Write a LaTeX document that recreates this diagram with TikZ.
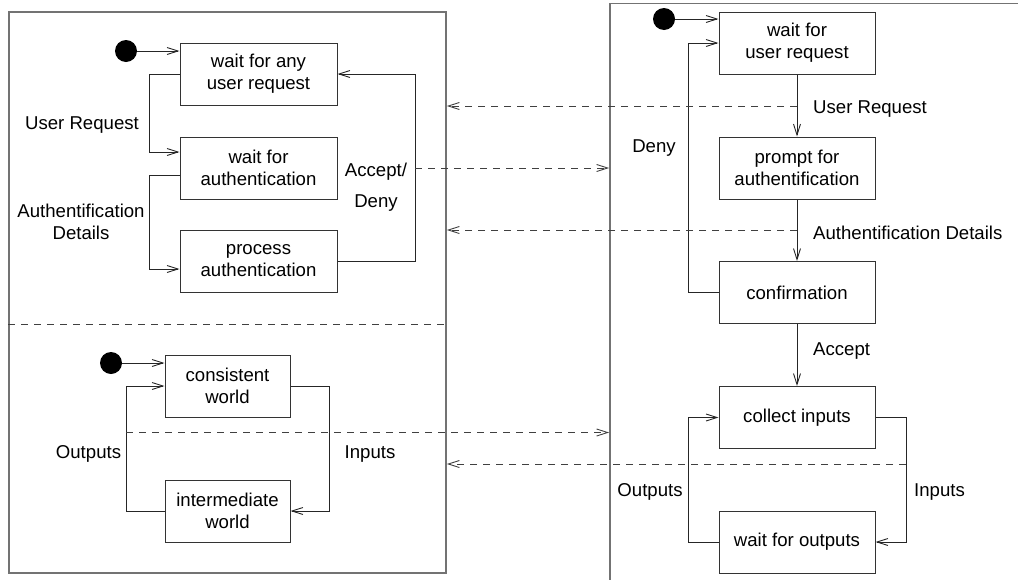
\documentclass[tikz,border=0pt]{standalone}
\usepackage{fontspec}
\setmainfont{Liberation Sans}
\usetikzlibrary{arrows.meta}
\begin{document}
\begin{tikzpicture}[x=1pt,y=-1pt,
  every node/.style={font=\fontsize{18.6}{22}\selectfont},
  state/.style={draw=black!80, line width=1pt, minimum height=62pt, align=center, inner sep=0pt},
  frame/.style={draw=black!55, line width=1.8pt, inner sep=0pt},
  barb/.style={-{Straight Barb[length=11pt,width=7pt,line width=0.9pt]}},
  flow/.style={draw=black!85, line width=1pt, barb},
  msg/.style={draw=black!75, line width=1pt, dash pattern=on 7pt off 6pt, barb},
  sep/.style={draw=black!75, line width=1pt, dash pattern=on 7pt off 6pt},
  startdot/.style={circle, fill=black, minimum size=22pt, inner sep=0pt},
  lbl/.style={inner sep=0pt, align=center}
]
\useasboundingbox (0,0) rectangle (1018,579);

% frames
\node[frame, minimum width=437pt, minimum height=561pt] (LF) at (227.5,292.5) {};
\node[frame, minimum width=420pt, minimum height=590pt] (RF) at (820,298.5) {};
\draw[sep] (LF.west |- 0,324) -- (LF.east |- 0,324);

% left top machine
\node[startdot] (d1) at (126,51) {};
\node[state, minimum width=157pt] (L1) at (258.5,74) {wait for any\\user request};
\node[state, minimum width=157pt] (L2) at (258.5,168) {wait for\\authentication};
\node[state, minimum width=157pt] (L3) at (258.5,261) {process\\authentication};
\draw[flow] (d1) -- (L1.west |- d1);
\draw[flow] (L1.west) -- (149,74) -- (149,152) -- (L2.west |- 0,152);
\draw[flow] (L2.west |- 0,175) -- (149,175) -- (149,269) -- (L3.west |- 0,269);
\draw[flow] (L3.east) -- (415,261) -- (415,74) -- (L1.east);
\node[lbl] (tUR) at (82,125) {User Request};
\node[lbl] (tAD) at (81,222) {Authentification\\Details};
\node[lbl] (tAcc) at (376,187) {Accept/\\[9pt]Deny};

% left bottom machine
\node[startdot] (d2) at (111,363) {};
\node[state, minimum width=125pt] (LC) at (227.5,386) {consistent\\world};
\node[state, minimum width=125pt] (LI) at (227.5,511) {intermediate\\world};
\draw[flow] (d2) -- (LC.west |- d2);
\draw[flow] (LI.west) -- (126,511) -- (126,386) -- (LC.west);
\draw[flow] (LC.east) -- (329,386) -- (329,511) -- (LI.east);
\node[lbl] (tOutL) at (88.5,454) {Outputs};
\node[lbl] (tInL) at (370,454) {Inputs};

% right machine
\node[startdot] (d3) at (664,19) {};
\node[state, minimum width=156pt] (R1) at (797,43) {wait for\\user request};
\node[state, minimum width=156pt] (R2) at (797,168) {prompt for\\authentification};
\node[state, minimum width=156pt] (R3) at (797,292.5) {confirmation};
\node[state, minimum width=156pt] (R4) at (797,417.5) {collect inputs};
\node[state, minimum width=156pt] (R5) at (797,542) {wait for outputs};
\draw[flow] (d3) -- (R1.west |- d3);
\draw[flow] (R3.west) -- (688,292.5) -- (688,43) -- (R1.west);
\draw[flow] (R1) -- (R2);
\draw[flow] (R2) -- (R3);
\draw[flow] (R3) -- (R4);
\draw[flow] (R5.west) -- (688,542) -- (688,417.5) -- (R4.west);
\draw[flow] (R4.east) -- (906,417.5) -- (906,542) -- (R5.east);
\node[lbl] (tDeny) at (654,148) {Deny};
\node[lbl, anchor=west] (tUR2) at (813,109) {User Request};
\node[lbl, anchor=west] (tAD2) at (813,233) {Authentification Details};
\node[lbl, anchor=west] (tAcc2) at (813,351) {Accept};
\node[lbl] (tOutR) at (650,492) {Outputs};
\node[lbl, anchor=west] (tInR) at (914,492) {Inputs};

% messages between machines
\coordinate (m1) at (797,106);
\coordinate (m2) at (415,168);
\coordinate (m3) at (797,230);
\coordinate (m4) at (126,432.5);
\coordinate (m5) at (906,464);
\draw[msg] (m1) -- (LF.east |- m1);
\draw[msg] (m2) -- (RF.west |- m2);
\draw[msg] (m3) -- (LF.east |- m3);
\draw[msg] (m4) -- (RF.west |- m4);
\draw[msg] (m5) -- (LF.east |- m5);
\end{tikzpicture}
\end{document}
